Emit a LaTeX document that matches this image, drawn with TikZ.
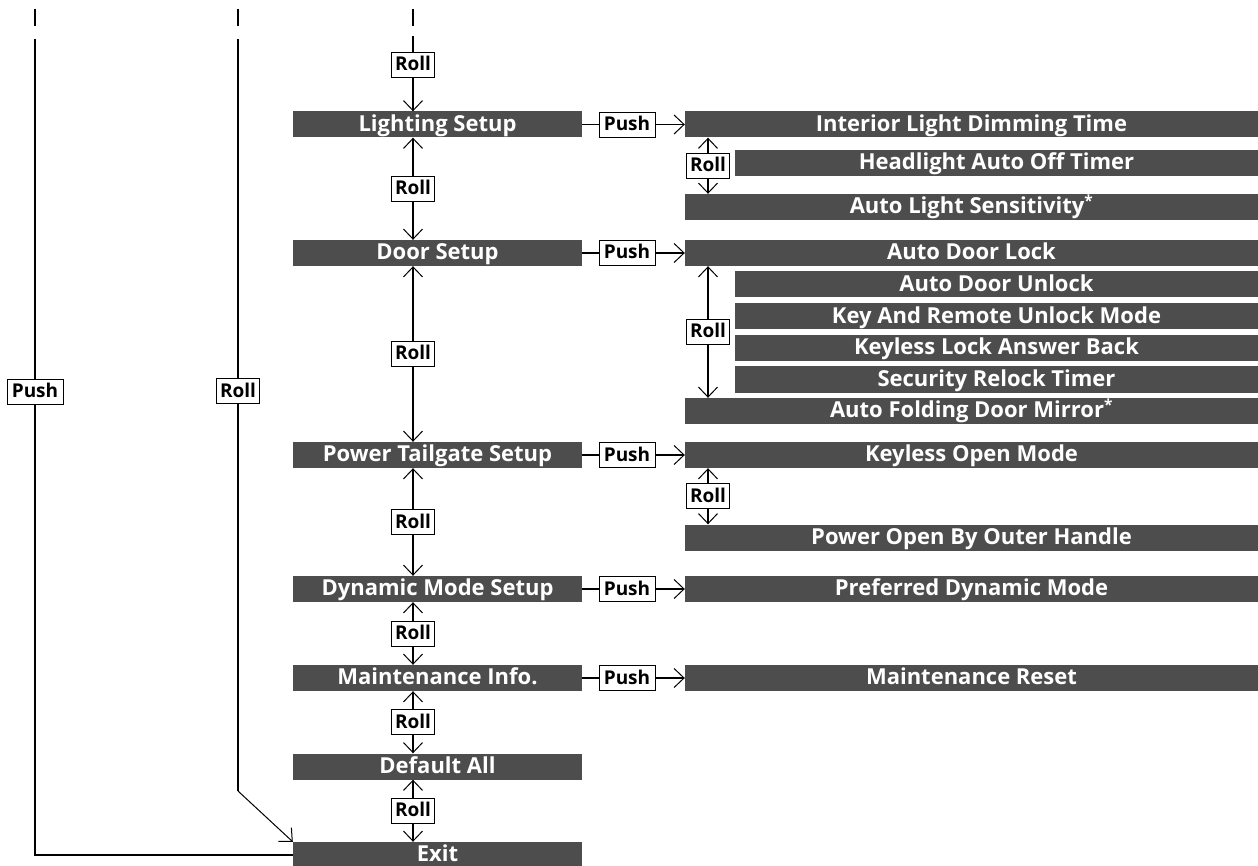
\documentclass[tikz,border=0pt]{standalone}
\usepackage{fontspec}
\setmainfont{Open Sans}
\usetikzlibrary{positioning,arrows.meta,calc}
\definecolor{barc}{RGB}{77,77,77}

\begin{document}
\begin{tikzpicture}[x=1pt,y=-1pt,
  >={Straight Barb[length=10pt,width=19pt,line width=1pt]},
  mainbar/.style={fill=barc,text=white,font=\bfseries\fontsize{22}{24}\selectfont,
    minimum width=289pt,minimum height=26pt,inner sep=0pt,text height=16.5pt,text depth=3pt},
  subbar/.style={mainbar,minimum width=573pt},
  subbarin/.style={mainbar,minimum width=523pt},
  keybox/.style={draw,line width=0.8pt,fill=white,font=\bfseries\fontsize{19}{21}\selectfont,
    minimum height=25pt,inner sep=0pt,text height=15pt,text depth=3pt},
  rollkey/.style={keybox,minimum width=43pt},
  pushkey/.style={keybox,minimum width=56pt},
  mainline/.style={line width=2pt},
  subline/.style={line width=1.5pt},
  thinline/.style={line width=1pt}]
  \useasboundingbox (0,0) rectangle (1258,866);

  % main menu
  \node[mainbar] (light) at (437.5,124.5) {Lighting Setup};
  \node[mainbar] (door) at (437.5,253) {Door Setup};
  \node[mainbar] (tail) at (437.5,455) {Power Tailgate Setup};
  \node[mainbar] (dyn) at (437.5,589) {Dynamic Mode Setup};
  \node[mainbar] (maint) at (437.5,678) {Maintenance Info.};
  \node[mainbar] (defall) at (437.5,766.5) {Default All};
  \node[mainbar] (exitbar) at (437.5,855) {Exit};

  % sub menus
  \node[subbar] (ildt) at (971.5,124.5) {Interior Light Dimming Time};
  \node[subbarin] (haot) at (996.5,163) {Headlight Auto Off Timer};
  \node[subbar] (als) at (971.5,207) {Auto Light Sensitivity\textsuperscript{*}};
  \node[subbar] (adl) at (971.5,253) {Auto Door Lock};
  \node[subbarin] (adu) at (996.5,284.5) {Auto Door Unlock};
  \node[subbarin] (karu) at (996.5,316.5) {Key And Remote Unlock Mode};
  \node[subbarin] (klab) at (996.5,348) {Keyless Lock Answer Back};
  \node[subbarin] (srt) at (996.5,379.5) {Security Relock Timer};
  \node[subbar] (afdm) at (971.5,411) {Auto Folding Door Mirror\textsuperscript{*}};
  \node[subbar] (kom) at (971.5,455) {Keyless Open Mode};
  \node[subbar] (pobo) at (971.5,537.5) {Power Open By Outer Handle};
  \node[subbar] (pdm) at (971.5,589) {Preferred Dynamic Mode};
  \node[subbar] (mreset) at (971.5,678) {Maintenance Reset};

  % push keys
  \node[pushkey] (p1) at (627,124.5) {Push};
  \node[pushkey] (p2) at (627,253) {Push};
  \node[pushkey] (p3) at (627,455) {Push};
  \node[pushkey] (p4) at (627,589) {Push};
  \node[pushkey] (p5) at (627,678) {Push};
  \foreach \m/\p/\s in {light/p1/ildt,door/p2/adl,tail/p3/kom,dyn/p4/pdm,maint/p5/mreset}{
    \draw[subline] (\m.east) -- (\p);
    \draw[subline,->] (\p) -- (\s.west);
  }

  % roll between main items
  \coordinate (mx) at (413,0);
  \coordinate (ta3) at (413,9); \coordinate (tb3) at (413,26);
  \coordinate (tc3) at (413,36);
  \draw[mainline] (ta3) -- (tb3);
  \node[rollkey] (r0) at (413,64.5) {Roll};
  \draw[mainline] (tc3) -- (r0);
  \draw[mainline,->] (r0) -- (light.north -| mx);
  \draw[mainline,<->] (light.south -| mx) -- (door.north -| mx) node[midway,rollkey] (r1) {Roll};
  \draw[mainline,<->] (door.south -| mx) -- (tail.north -| mx) node[midway,rollkey] (r2) {Roll};
  \draw[mainline,<->] (tail.south -| mx) -- (dyn.north -| mx) node[midway,rollkey] (r3) {Roll};
  \draw[mainline,<->] (dyn.south -| mx) -- (maint.north -| mx) node[midway,rollkey] (r4) {Roll};
  \draw[mainline,<->] (maint.south -| mx) -- (defall.north -| mx) node[midway,rollkey] (r5) {Roll};
  \draw[mainline,<->] (defall.south -| mx) -- (exitbar.north -| mx) node[midway,rollkey] (r6) {Roll};

  % roll in sub menus
  \coordinate (sx) at (708,0);
  \draw[subline,<->] (ildt.south -| sx) -- (als.north -| sx) node[midway,rollkey] (s1) {Roll};
  \draw[subline,<->] (adl.south -| sx) -- (afdm.north -| sx) node[midway,rollkey] (s2) {Roll};
  \draw[subline,<->] (kom.south -| sx) -- (pobo.north -| sx) node[midway,rollkey] (s3) {Roll};

  % back to exit
  \coordinate (ta1) at (35,9); \coordinate (tb1) at (35,26); \coordinate (tc1) at (35,39);
  \coordinate (ta2) at (238,9); \coordinate (tb2) at (238,26); \coordinate (tc2) at (238,39);
  \coordinate (bend) at (238,791);
  \draw[mainline] (ta1) -- (tb1);
  \draw[mainline] (ta2) -- (tb2);
  \node[pushkey] (pl) at (35,392) {Push};
  \node[rollkey] (rl) at (238,391) {Roll};
  \draw[mainline] (tc1) -- (pl);
  \draw[mainline] (pl) |- (exitbar.west);
  \draw[mainline] (tc2) -- (rl);
  \draw[mainline] (rl) -- (bend);
  \draw[thinline,->] (bend) -- (exitbar.north west);
\end{tikzpicture}
\end{document}
